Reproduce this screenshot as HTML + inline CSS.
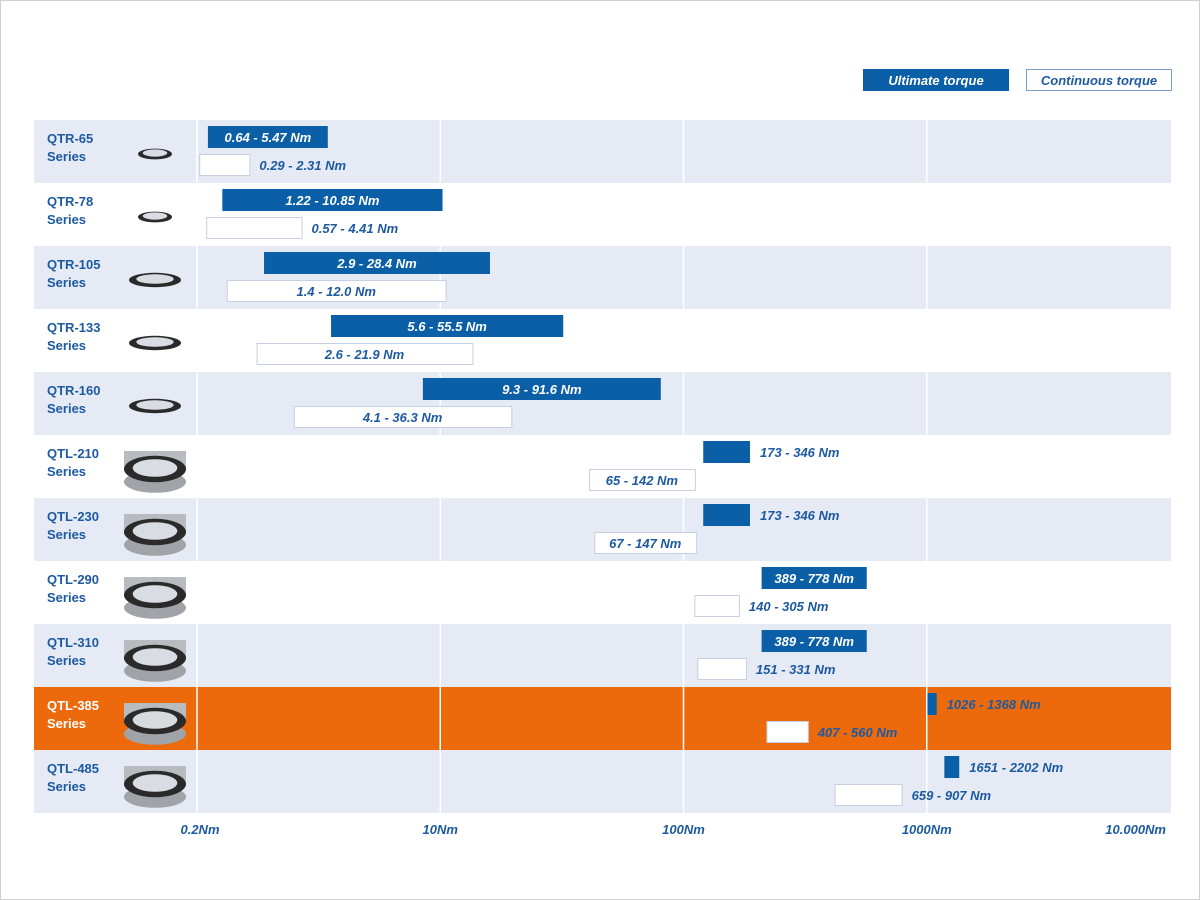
<!DOCTYPE html>
<html><head><meta charset="utf-8"><style>
body{margin:0;width:1200px;height:900px;background:#fff;font-family:"Liberation Sans",sans-serif;overflow:hidden}
#frame{position:absolute;left:0;top:0;width:1198px;height:898px;border:1px solid #d0d0d0}
svg text{font-family:"Liberation Sans",sans-serif;font-weight:bold;font-style:italic}
</style></head><body>
<div id="frame"></div>
<svg id="chart" width="1200" height="900" style="position:absolute;left:0;top:0"></svg>
<script>
const series=["QTR-65","QTR-78","QTR-105","QTR-133","QTR-160","QTL-210","QTL-230","QTL-290","QTL-310","QTL-385","QTL-485"];
const ultLow=[0.64,1.22,2.9,5.6,9.3,173,173,389,389,1026,1651];
const ultHigh=[5.47,10.85,28.4,55.5,91.6,346,346,778,778,1368,2202];
const contLow=[0.29,0.57,1.4,2.6,4.1,65,67,140,151,407,659];
const contHigh=[2.31,4.41,12.0,21.9,36.3,142,147,305,331,560,907];
const ultLabels=["0.64 - 5.47 Nm","1.22 - 10.85 Nm","2.9 - 28.4 Nm","5.6 - 55.5 Nm","9.3 - 91.6 Nm","173 - 346 Nm","173 - 346 Nm","389 - 778 Nm","389 - 778 Nm","1026 - 1368 Nm","1651 - 2202 Nm"];
const contLabels=["0.29 - 2.31 Nm","0.57 - 4.41 Nm","1.4 - 12.0 Nm","2.6 - 21.9 Nm","4.1 - 36.3 Nm","65 - 142 Nm","67 - 147 Nm","140 - 305 Nm","151 - 331 Nm","407 - 560 Nm","659 - 907 Nm"];
const tickValues=[0.2,10,100,1000,10000];
const tickLabels=["0.2Nm","10Nm","100Nm","1000Nm","10.000Nm"];
const highlightIndex=9;

const svg=document.getElementById('chart');
const NS='http://www.w3.org/2000/svg';
const X0=197,SEG=243.25,TOP=120,RH=63;
function xScale(v){
  for(let i=0;i<tickValues.length-1;i++){
    if(v<=tickValues[i+1]||i===tickValues.length-2){
      return X0+i*SEG+(v-tickValues[i])/(tickValues[i+1]-tickValues[i])*SEG;
    }
  }
}
function el(tag,attrs,parent){const e=document.createElementNS(NS,tag);for(const k in attrs)e.setAttribute(k,attrs[k]);(parent||svg).appendChild(e);return e;}
const BLUE='#0a5fa6',TXT='#1d5aa0';

const lg=el('g',{});

const l1=el('rect',{x:863,y:69,width:146,height:22,fill:BLUE},lg);

const t1=el('text',{x:936,y:85,fill:'#fff','font-size':13,'text-anchor':'middle'},lg);t1.textContent='Ultimate torque';

const l2=el('rect',{x:1026.5,y:69.5,width:145,height:21,fill:'#fff',stroke:'#7a9cc8'},lg);

const t2=el('text',{x:1099,y:85,fill:TXT,'font-size':13,'text-anchor':'middle'},lg);t2.textContent='Continuous torque';


series.forEach((s,i)=>{
  const y=TOP+i*RH;
  const hi=i===highlightIndex;
  const bg=el('rect',{x:34,y:y,width:1137,height:RH,fill:hi?'#ec6a0c':(i%2===0?'#e5eaf5':'#fff')});
  
  
});
tickValues.slice(0,4).forEach((v,i)=>{
  const g=el('line',{x1:xScale(v),x2:xScale(v),y1:TOP,y2:TOP+RH*series.length,stroke:'#fff','stroke-width':1.5});
  
  
});
series.forEach((s,i)=>{
  const y=TOP+i*RH;
  const hi=i===highlightIndex;
  const lc=hi?'#fff':TXT;
  const n=el('text',{x:47,y:y+23,fill:lc,'font-size':13});n.style.fontStyle='normal';n.textContent=s;
  
  
  const n2=el('text',{x:47,y:y+41,fill:lc,'font-size':13});n2.style.fontStyle='normal';n2.textContent='Series';
  
  
  const cx=155,cy=y+34,big=i>=5;
  const rx=big?31:(i<2?17:26),ry=big?22:(i<2?9:12);
  const ic=el('g',{});
  
  
  if(big){el('rect',{x:cx-rx,y:cy-ry+4,width:rx*2,height:ry*0.9,fill:'#b8bcc0'},ic);el('ellipse',{cx:cx,cy:cy+ry*0.4+4,rx:rx,ry:ry*0.5,fill:'#a0a4a8'},ic);}
  el('ellipse',{cx:cx,cy:cy,rx:rx,ry:ry*0.6,fill:'#2a2a2a'},ic);
  el('ellipse',{cx:cx,cy:cy-1,rx:rx*0.72,ry:ry*0.4,fill:hi?'#d8dadc':'#d9dde3'},ic);
  const ux1=xScale(ultLow[i]),ux2=xScale(ultHigh[i]);
  const ub=el('rect',{x:ux1,y:y+6,width:ux2-ux1,height:22,fill:BLUE});
  
  
  const inside=ux2-ux1>=100;
  const ut=el('text',{x:inside?(ux1+ux2)/2:ux2+10,y:y+22,fill:inside?'#fff':TXT,'font-size':13,'text-anchor':inside?'middle':'start'});
  ut.textContent=ultLabels[i];
  
  
  const cx1=xScale(contLow[i]),cx2=xScale(contHigh[i]);
  const cb=el('rect',{x:cx1+0.5,y:y+34.5,width:cx2-cx1,height:21,fill:'#fff',stroke:'#c5cfe2'});
  
  
  const cin=cx2-cx1>=100;
  const ct=el('text',{x:cin?(cx1+cx2)/2:cx2+10,y:y+50,fill:TXT,'font-size':13,'text-anchor':cin?'middle':'start'});
  ct.textContent=contLabels[i];
  
  
});
tickValues.forEach((v,i)=>{
  const last=i===tickValues.length-1;
  const t=el('text',{x:last?1166:xScale(v)+(i===0?3:0),y:834,fill:TXT,'font-size':13,'text-anchor':last?'end':'middle'});
  t.textContent=tickLabels[i];
  
  
});
</script>
</body></html>
